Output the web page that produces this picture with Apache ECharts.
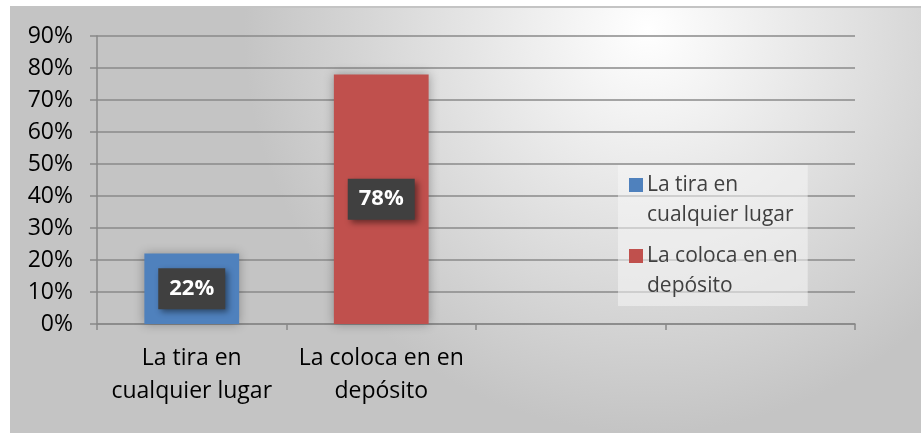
<!DOCTYPE html>
<html>
<head>
<meta charset="utf-8">
<script src="https://cdn.jsdelivr.net/npm/echarts@6/dist/echarts.min.js"></script>
<style>
  html, body { margin: 0; padding: 0; background: #fff; }
  #myCharts {
    position: absolute;
    left: 10px;
    top: 6px;
    width: 911px;
    height: 427px;
    border-top: 2px solid #c4c4c4;
    box-sizing: border-box;
  }
</style>
</head>
<body>
<div id="myCharts"></div>
<script>
let categories = ["La tira en\ncualquier lugar", "La coloca en en\ndepósito", "", ""];
let seriesNames = ["La tira en cualquier lugar", "La coloca en en depósito"];
let legendLabels = ["La tira en\ncualquier lugar", "La coloca en en\ndepósito"];
let tiraValues = [22, null, null, null];
let colocaValues = [null, 78, null, null];
let seriesColors = ["#4f81bd", "#c0504d"];

// square sitting on the first text line (bbox stretched by two dots)
let legendIcon = "path://M0,8H14V22H0Z M0,0L0.01,0 M0,60L0.01,60";
let fontName = "Open Sans";

let labelStyle = {
  show: true,
  position: "inside",
  formatter: "{c}%",
  color: "#fff",
  fontFamily: fontName,
  fontWeight: "bold",
  fontSize: 22,
  backgroundColor: "#404040",
  padding: [10, 11, 9, 11],
  shadowColor: "rgba(0,0,0,0.45)",
  shadowBlur: 6,
  shadowOffsetX: 3,
  shadowOffsetY: 3,
};

let barItem = function (color) {
  return {
    color: color,
    shadowColor: "rgba(0,0,0,0.3)",
    shadowBlur: 10,
  };
};

let option = {
  backgroundColor: new echarts.graphic.RadialGradient(0.7, 0.05, 0.95, [
    { offset: 0, color: "#ffffff" },
    { offset: 1, color: "#c4c4c4" },
  ]),
  textStyle: { fontFamily: fontName },
  grid: {
    left: 87,
    right: 66,
    top: 28,
    bottom: 109,
  },
  legend: {
    orient: "vertical",
    left: 608,
    top: 157,
    padding: [5, 10, 5, 11],
    backgroundColor: "rgba(245,245,245,0.55)",
    itemWidth: 14,
    itemHeight: 60,
    itemGap: 11,
    icon: legendIcon,
    data: seriesNames,
    formatter: function (name) {
      return legendLabels[seriesNames.indexOf(name)];
    },
    textStyle: {
      color: "#404040",
      fontSize: 21,
      lineHeight: 30,
      fontFamily: fontName,
      padding: [0, 0, 0, -1],
    },
  },
  xAxis: {
    type: "category",
    data: categories,
    axisLine: { lineStyle: { color: "#888", width: 1.5 } },
    axisTick: { show: true, length: 6, lineStyle: { color: "#888", width: 1.5 } },
    axisLabel: {
      color: "#000",
      fontSize: 23,
      lineHeight: 33,
      margin: 18,
      interval: 0,
    },
  },
  yAxis: {
    type: "value",
    min: 0,
    max: 90,
    interval: 10,
    axisLine: { show: true, lineStyle: { color: "#888", width: 1.5 } },
    axisTick: { show: true, length: 7, lineStyle: { color: "#888", width: 1.5 } },
    axisLabel: {
      color: "#000",
      fontSize: 23,
      margin: 24,
      formatter: "{value}%",
    },
    splitLine: { lineStyle: { color: "#8a8a8a", width: 1.5 } },
  },
  series: [
    {
      name: seriesNames[0],
      type: "bar",
      stack: "all",
      barWidth: "50%",
      data: tiraValues,
      itemStyle: barItem(seriesColors[0]),
      label: labelStyle,
    },
    {
      name: seriesNames[1],
      type: "bar",
      stack: "all",
      barWidth: "50%",
      data: colocaValues,
      itemStyle: barItem(seriesColors[1]),
      label: labelStyle,
    },
  ],
};

let myChart = echarts.init(document.getElementById("myCharts"));
myChart.setOption(option);
</script>
</body>
</html>
